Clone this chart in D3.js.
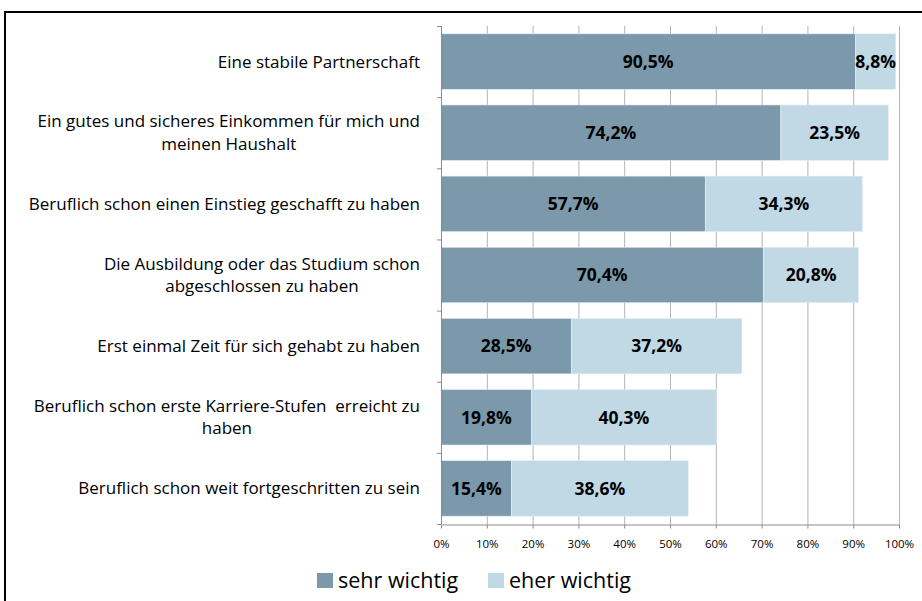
<!DOCTYPE html>
<html>
<head>
<meta charset="utf-8">
<script src="https://cdn.jsdelivr.net/npm/d3@7"></script>
<style>
  body { margin: 0; background: #fff; }
  svg { display: block; font-family: "Open Sans", sans-serif; font-variant-ligatures: none; }
</style>
</head>
<body>
<div id="chart"></div>
<script>
var width = 922,
    height = 601;

// categories, each one split into its printed lines
var categories = [
  ["Eine stabile Partnerschaft"],
  ["Ein gutes und sicheres Einkommen für mich und", "meinen Haushalt"],
  ["Beruflich schon einen Einstieg geschafft zu haben"],
  ["Die Ausbildung oder das Studium schon", "abgeschlossen zu haben"],
  ["Erst einmal Zeit für sich gehabt zu haben"],
  ["Beruflich schon erste Karriere-Stufen  erreicht zu", "haben"],
  ["Beruflich schon weit fortgeschritten zu sein"]
];
var sehrWichtig = [90.5, 74.2, 57.7, 70.4, 28.5, 19.8, 15.4];
var eherWichtig = [8.8, 23.5, 34.3, 20.8, 37.2, 40.3, 38.6];
var seriesNames = ["sehr wichtig", "eher wichtig"];
var xTicks = [0, 10, 20, 30, 40, 50, 60, 70, 80, 90, 100];

var colors = ["#7b99aa", "#c1d9e5"];

var margin = {left: 441, right: 23, top: 26, bottom: 77};

var svg = d3.select("#chart").append("svg")
    .attr("width", width)
    .attr("height", height);

// outer frame
svg.append("rect")
    .attr("x", 5).attr("y", 12)
    .attr("width", width + 10).attr("height", height + 10)
    .attr("fill", "none")
    .attr("stroke", "#000")
    .attr("stroke-width", 2);

var x = d3.scaleLinear()
    .domain([0, 100])
    .range([margin.left, width - margin.right]);

var idx = d3.range(categories.length);
var y = d3.scaleBand()
    .domain(idx)
    .range([margin.top, height - margin.bottom])
    .paddingInner(0.22)
    .paddingOuter(0.11);

var plotBottom = height - margin.bottom;

// vertical grid
svg.append("g")
    .selectAll("line").data(xTicks.slice(1))
  .enter().append("line")
    .attr("x1", d => x(d) + 0.5).attr("x2", d => x(d) + 0.5)
    .attr("y1", margin.top).attr("y2", plotBottom)
    .attr("stroke", "#b3b3b3")
    .attr("stroke-width", 1);

// stacked bars
var stackData = idx.map(i => ({i: i, sehr: sehrWichtig[i], eher: eherWichtig[i]}));
var series = d3.stack().keys(["sehr", "eher"])(stackData);

var layers = svg.append("g").selectAll("g").data(series)
  .enter().append("g")
    .attr("fill", (d, k) => colors[k]);

layers.selectAll("rect").data(d => d)
  .enter().append("rect")
    .attr("x", d => x(d[0]))
    .attr("y", d => y(d.data.i))
    .attr("width", d => x(d[1]) - x(d[0]))
    .attr("height", y.bandwidth())
    .attr("stroke", "#e8eef2")
    .attr("stroke-width", 0.6);

layers.selectAll("text").data(d => d)
  .enter().append("text")
    .attr("x", d => (x(d[0]) + x(d[1])) / 2)
    .attr("y", d => y(d.data.i) + y.bandwidth() / 2)
    .attr("dy", "0.36em")
    .attr("text-anchor", "middle")
    .attr("fill", "#000")
    .style("font-size", "17.5px")
    .style("font-weight", "bold")
    .text(d => (d[1] - d[0]).toFixed(1).replace(".", ",") + "%");

// y axis line with ticks between categories
var yAxis = svg.append("g");
yAxis.append("line")
    .attr("x1", margin.left + 0.5).attr("x2", margin.left + 0.5)
    .attr("y1", margin.top).attr("y2", plotBottom)
    .attr("stroke", "#8c8c8c");
yAxis.selectAll("line.tk").data(d3.range(categories.length + 1))
  .enter().append("line")
    .attr("class", "tk")
    .attr("x1", margin.left - 4).attr("x2", margin.left)
    .attr("y1", d => margin.top + d * (plotBottom - margin.top) / categories.length + 0.5)
    .attr("y2", d => margin.top + d * (plotBottom - margin.top) / categories.length + 0.5)
    .attr("stroke", "#8c8c8c");

// x axis
var xAxis = svg.append("g")
    .attr("transform", "translate(0," + (plotBottom + 0.5) + ")")
    .call(d3.axisBottom(x).tickValues(xTicks).tickSize(4).tickSizeOuter(0)
      .tickFormat(d => d + "%"));
xAxis.select(".domain").attr("stroke", "#8c8c8c");
xAxis.selectAll(".tick line").attr("stroke", "#8c8c8c");
xAxis.selectAll(".tick text")
    .attr("y", 15)
    .attr("fill", "#000")
    .style("font-size", "11.5px")
    .style("font-family", "'Open Sans', sans-serif");

// category labels
var labelRight = 420;
var lineH = 22.5;
categories.forEach(function(lines, i) {
  var g = svg.append("g");
  var cy = y(i) + y.bandwidth() / 2;
  var texts = lines.map(function(l, j) {
    return g.append("text")
      .attr("y", cy + (j - (lines.length - 1) / 2) * lineH)
      .attr("dy", "0.35em")
      .attr("text-anchor", "middle")
      .attr("fill", "#000")
      .style("font-size", "17px")
      .style("white-space", "pre")
      .text(l);
  });
  var maxW = d3.max(texts, t => t.node().getComputedTextLength());
  texts.forEach(t => t.attr("x", labelRight - maxW / 2));
});

// legend
var legendX = [317, 488];
var legend = svg.append("g");
seriesNames.forEach(function(name, k) {
  legend.append("rect")
    .attr("x", legendX[k]).attr("y", 573)
    .attr("width", 16).attr("height", 15)
    .attr("fill", colors[k]);
  legend.append("text")
    .attr("x", legendX[k] + 21).attr("y", 580)
    .attr("dy", "0.35em")
    .attr("fill", "#000")
    .style("font-size", "21.5px")
    .text(name);
});
</script>
</body>
</html>
